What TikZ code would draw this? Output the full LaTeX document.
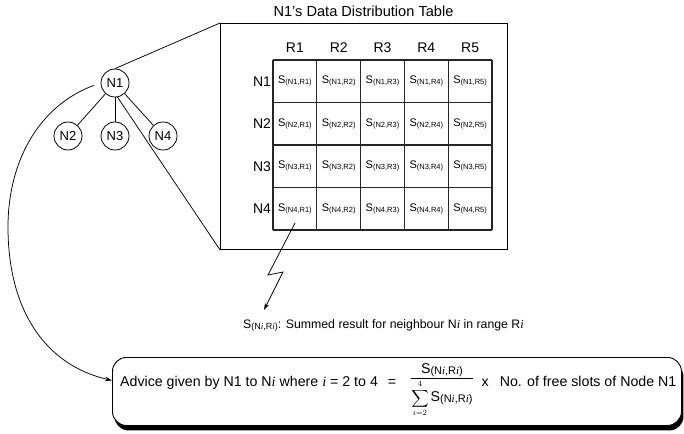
\RequirePackage{fix-cm}
\documentclass[tikz,border=0pt]{standalone}
\usepackage{exscale}
\usepackage{fontspec}
\setmainfont{Liberation Sans}
\newfontfamily\seriffam{Liberation Serif}
\usetikzlibrary{arrows.meta,shadows}

% italic index letter
\newcommand\iv{{\seriffam\itshape i}}
% S with a small (node,range) pair, for the table cells and for the text
\newcommand\Scell[2]{S\raisebox{-0.15ex}{\fontsize{7.5}{8}\selectfont(#1,#2)}}
\newcommand\Sbig[2]{{\fontsize{14.2}{16}\selectfont S}\raisebox{-0.15ex}{\fontsize{11}{12}\selectfont(#1,#2)}}
\newcommand\Slegend[2]{S\raisebox{-0.15ex}{\fontsize{9}{10}\selectfont(#1,#2)}}

\tikzset{
  lbl/.style={font=\fontsize{14}{16}\selectfont, inner sep=0pt},
  nd/.style={circle, draw, line width=0.8pt, minimum size=28pt, inner sep=0pt,
             font=\fontsize{13}{15}\selectfont},
  cellnode/.style={font=\fontsize{11}{12}\selectfont, inner sep=0pt},
  gridline/.style={line width=1.1pt, draw=black!85},
  conn/.style={line width=0.75pt},
  arr/.style={line width=0.75pt, -{Stealth[length=7pt,width=4.5pt]}},
}

\begin{document}
\begin{tikzpicture}[x=1pt,y=-1pt]
\useasboundingbox (0,0) rectangle (684,433);

% node tree
\node[nd] (N1) at (115,83) {N1};
\node[nd] (N2) at (68,136) {N2};
\node[nd] (N3) at (115,136) {N3};
\node[nd] (N4) at (163,136) {N4};
\foreach \k in {2,3,4} \draw[conn] (N1) -- (N\k);

% distribution table frame and title
\node[draw, line width=0.9pt, minimum width=287pt, minimum height=226pt,
      inner sep=0pt, anchor=north west] (tbl) at (220,23) {};
\node[lbl, font=\fontsize{14.6}{16}\selectfont] (title) at (363.5,11) {N1's Data Distribution Table};
\draw[conn] (N1.north) -- (tbl.north west);
\draw[conn] (N1.-80) -- (tbl.south west);

% grid
\def\gx{273}\def\gy{60}\def\cw{43.8}\def\rh{42.5}
\foreach \c in {0,...,5}
  \draw[gridline] (\gx+\c*\cw,\gy) -- (\gx+\c*\cw,\gy+4*\rh);
\foreach \r in {0,...,4}
  \draw[gridline] (\gx,\gy+\r*\rh) -- (\gx+5*\cw,\gy+\r*\rh);
\foreach \c in {1,...,5}
  \node[lbl] (col\c) at (\gx+\c*\cw-0.5*\cw,48) {R\c};
\foreach \r in {1,...,4}{
  \node[lbl] (row\r) at (262,\gy+\r*\rh-0.5*\rh) {N\r};
  \foreach \c in {1,...,5}
    \node[cellnode] (cell-\r-\c) at (\gx+\c*\cw-0.5*\cw,\gy+\r*\rh-0.5*\rh) {\Scell{N\r}{R\c}};
}

% explanation of the cell entries
\node[font=\fontsize{12.3}{14}\selectfont, inner sep=0pt, anchor=west] (legend) at (243,325)
  {\Slegend{N\iv}{R\iv}: Summed result for neighbour N\iv{} in range R\iv};
\coordinate (z0) at (295,223);
\coordinate (z1) at (268,275);
\coordinate (z2) at (283,272);
\coordinate (z3) at (264,310);
\draw[arr] (z0) -- (z1) -- (z2) -- (z3);

% advice box
\node[draw, line width=0.9pt, rounded corners=14pt, fill=white,
      minimum width=569pt, minimum height=68pt, inner sep=0pt, anchor=north west,
      drop shadow={shadow xshift=2pt, shadow yshift=-5pt, opacity=1, fill=black}]
      (adv) at (112,357) {};
\node[font=\fontsize{14.2}{16}\selectfont, inner sep=0pt, anchor=base west] (formula) at (120,386)
  {Advice given by N1 to N\iv{} where \iv{} = 2 to 4\hspace{10pt}=\hspace{14pt}%
   \raisebox{4.5pt}{\fontsize{11.5}{13}\selectfont
   $\displaystyle\frac{\mbox{\Sbig{N\iv}{R\iv}}}{\displaystyle\sum\limits_{i=2}^{4}\mbox{\Sbig{N\iv}{R\iv}}}$}%
   \hspace{8pt}x\hspace{11pt}No. of free slots of Node N1};

% advice sent from N1
\draw[arr, shorten <=7pt] (N1.west) .. controls (40,105) and (8,160) .. (8,227)
  .. controls (8,310) and (45,365) .. ([yshift=11pt]adv.west);
\end{tikzpicture}
\end{document}
